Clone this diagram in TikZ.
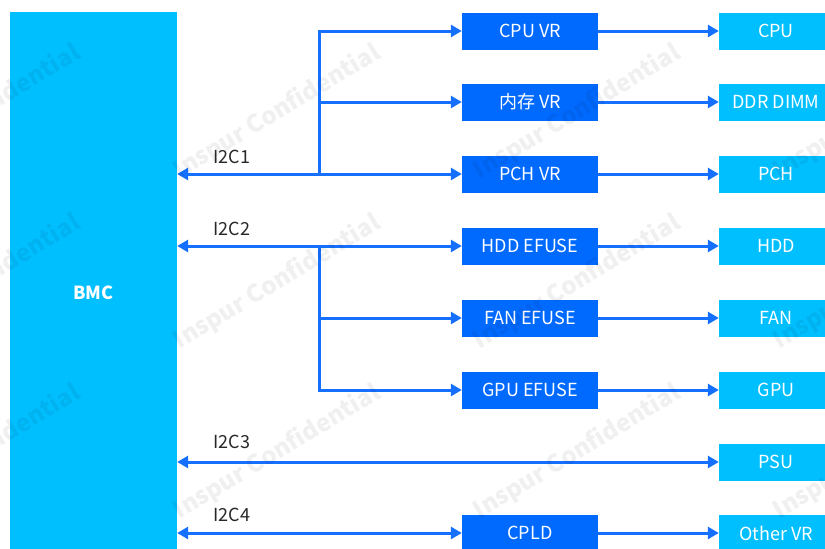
\documentclass[tikz,border=0pt]{standalone}
\usepackage{fontspec}
\setmainfont{Noto Sans CJK SC}
\usetikzlibrary{arrows.meta}
\definecolor{cyanbox}{RGB}{0,191,255}
\definecolor{bluebox}{RGB}{0,106,255}
\definecolor{lineblue}{RGB}{22,112,255}
\definecolor{labelgray}{RGB}{40,40,40}
\tikzset{
  boxfont/.style={font=\fontsize{18}{21}\selectfont},
  midbox/.style={fill=bluebox, text=white, minimum width=136pt, minimum height=37pt, inner sep=0pt, boxfont},
  endbox/.style={fill=cyanbox, text=white, minimum width=114pt, minimum height=37pt, inner sep=0pt, boxfont},
  tip/.tip={Triangle[length=11pt,width=12pt]},
  busline/.style={draw=lineblue, line width=3pt},
  bus/.style={busline, -tip},
  bibus/.style={busline, tip-tip},
  lbl/.style={text=labelgray, boxfont, inner sep=0pt},
  wmark/.style={rotate=31, opacity=0.06, text=black, font=\bfseries\fontsize{24}{24}\selectfont}
}
\begin{document}
\begin{tikzpicture}[x=1pt,y=-1pt]
\useasboundingbox (0,0) rectangle (825,549);
\clip (0,0) rectangle (825,549);
\fill[white] (0,0) rectangle (825,549);
% BMC
\node[fill=cyanbox, text=white, minimum width=167pt, minimum height=562pt, inner sep=0pt, font=\bfseries\fontsize{18}{21}\selectfont] (bmc) at (93.5,293) {BMC};
% middle boxes
\node[midbox] (cpuvr) at (530,31) {CPU VR};
\node[midbox] (memvr) at (530,102) {内存 VR};
\node[midbox] (pchvr) at (530,174) {PCH VR};
\node[midbox] (hdde) at (530,246) {HDD EFUSE};
\node[midbox] (fane) at (530,318) {FAN EFUSE};
\node[midbox] (gpue) at (530,390) {GPU EFUSE};
\node[midbox] (cpld) at (530,533) {CPLD};
% end boxes
\node[endbox] (cpu) at (776,31) {CPU};
\node[endbox] (ddr) at (776,102) {DDR DIMM};
\node[endbox] (pch) at (776,174) {PCH};
\node[endbox] (hdd) at (776,246) {HDD};
\node[endbox] (fan) at (776,318) {FAN};
\node[endbox] (gpu) at (776,390) {GPU};
\node[endbox] (psu) at (776,462) {PSU};
\node[endbox] (other) at (776,533) {Other VR};
% junctions
\coordinate (j1) at (319,174);
\coordinate (j2) at (319,246);
% I2C1
\draw[bibus] (bmc.east |- pchvr.west) -- (pchvr.west);
\draw[bus] (j1) |- (cpuvr.west);
\draw[bus] (j1) |- (memvr.west);
% I2C2
\draw[bibus] (bmc.east |- hdde.west) -- (hdde.west);
\draw[bus] (j2) |- (fane.west);
\draw[bus] (j2) |- (gpue.west);
% I2C3, I2C4
\draw[bibus] (bmc.east |- psu.west) -- (psu.west);
\draw[bibus] (bmc.east |- cpld.west) -- (cpld.west);
% middle to end
\draw[bus] (cpuvr.east) -- (cpu.west);
\draw[bus] (memvr.east) -- (ddr.west);
\draw[bus] (pchvr.east) -- (pch.west);
\draw[bus] (hdde.east) -- (hdd.west);
\draw[bus] (fane.east) -- (fan.west);
\draw[bus] (gpue.east) -- (gpu.west);
\draw[bus] (cpld.east) -- (other.west);
% labels
\node[lbl] (l1) at (232,157) {I2C1};
\node[lbl] (l2) at (232,229) {I2C2};
\node[lbl] (l3) at (232,442) {I2C3};
\node[lbl] (l4) at (232,515) {I2C4};
% watermark
\foreach \wx in {-23,277,577,877} {
  \foreach \wy in {112,282,452} {
    \node[wmark] at (\wx,\wy) {Inspur Confidential};
  }
}
\end{tikzpicture}
\end{document}
